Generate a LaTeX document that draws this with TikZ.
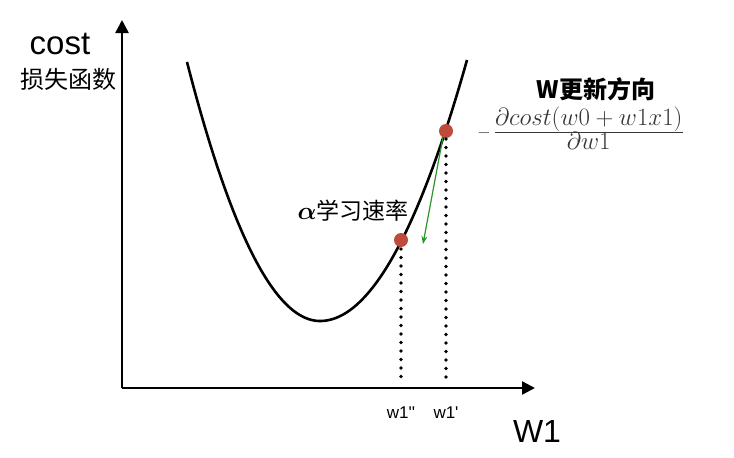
\documentclass[tikz,border=0pt]{standalone}
\usepackage{amsmath,bm}
\usepackage{fontspec}
\setmainfont{Liberation Sans}
\newfontfamily\plainsans{Liberation Sans}[Ligatures=ResetAll]
\newfontfamily\cjk{Noto Sans CJK SC}
\usetikzlibrary{arrows.meta}
\definecolor{dotred}{RGB}{190,75,60}
\definecolor{arrgreen}{RGB}{40,150,40}
\definecolor{fracgray}{RGB}{55,55,55}
\tikzset{
  axis/.style={line width=2.4pt,-{Triangle[length=13pt,width=13pt]}},
  curve/.style={line width=2.6pt},
  dotline/.style={line width=3.6pt,line cap=round,dash pattern=on 0pt off 8.5pt},
  reddot/.style={circle,fill=dotred,minimum size=14pt,inner sep=0pt},
  lbl/.style={inner sep=0pt},
}
\newcommand{\myfrac}[2]{{\setlength{\arrayrulewidth}{1pt}\renewcommand{\arraystretch}{0.7}\begin{tabular}{@{}c@{}}#1\\\hline #2\end{tabular}}}
\begin{document}
\begin{tikzpicture}[x=1pt,y=-1pt]
\useasboundingbox (0,0) rectangle (734,458);
\coordinate (O) at (122,388);
\coordinate (Ytop) at (122,20);
\coordinate (Xend) at (535,388);
\draw[axis] (O) -- (Ytop);
\draw[axis] (O) -- (Xend);
% curve
\draw[curve] plot[domain=187:320,samples=60,smooth] (\x,{321-259*((320-\x)/133)^2});
\draw[curve] plot[domain=320:467,samples=60,smooth] (\x,{321-261*((\x-320)/147)^2});
% dots
\node[reddot] (p1) at (446,131) {};
\node[reddot] (p2) at (401,240) {};
\coordinate (b1) at (446,383);
\coordinate (b2) at (401,383);
\draw[dotline] (446,139) -- (b1);
\draw[dotline] (401,249) -- (b2);
% green arrow
\coordinate (g1) at (443,137);
\coordinate (g2) at (423,244);
\draw[arrgreen,line width=1.2pt,-{Stealth[length=8pt,width=6pt]}] (g1) -- (g2);
% labels
\node[lbl] (cost) at (60,44) {\fontsize{33}{33}\selectfont cost};
\node[lbl] (loss) at (68,79) {\cjk\fontsize{24}{24}\selectfont 损失函数};
\node[lbl] (wdir) at (596,89) {\cjk\bfseries\fontsize{24}{24}\selectfont \textbf{W}更新方向};
\node[lbl,text=fracgray] (frac) at (580,131) {\fontsize{24.88}{25}\selectfont {\fontsize{17.28}{17}\selectfont$-$}\,\myfrac{$\partial cost(w0+w1x1)$}{$\partial w1$}};
\node[lbl] (alpha) at (353,211) {\fontsize{23}{23}\selectfont $\bm{\alpha}$\cjk 学习速率};
\node[lbl] (w1pp) at (401,413) {\plainsans\fontsize{17}{17}\selectfont w1''};
\node[lbl] (w1p) at (446,413) {\plainsans\fontsize{17}{17}\selectfont w1'};
\node[lbl] (W1) at (537,431) {\fontsize{32}{32}\selectfont W1};
\end{tikzpicture}
\end{document}
